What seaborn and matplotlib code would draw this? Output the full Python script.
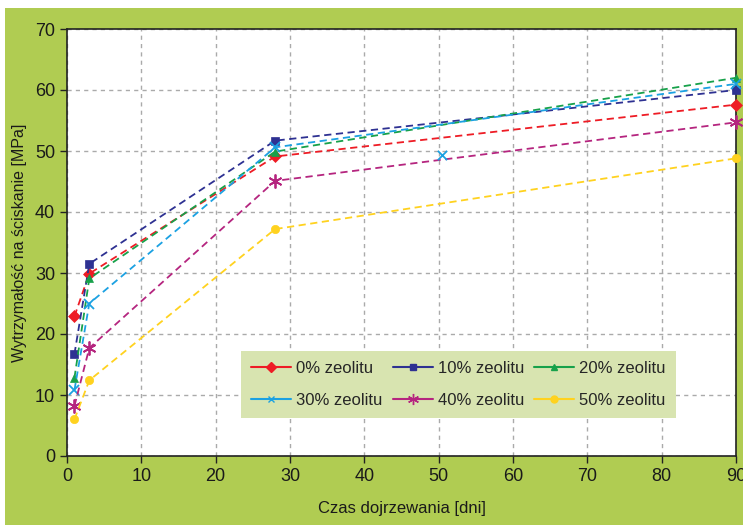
import matplotlib
matplotlib.use("Agg")
import matplotlib.pyplot as plt
import matplotlib.patches as patches
from matplotlib.lines import Line2D
import pandas as pd
import seaborn as sb

# curing time [days]
days = [1, 3, 28, 90]

# compressive strength [MPa] per zeolite content
z0 = [22.9, 29.9, 49.1, 57.6]
z10 = [16.7, 31.5, 51.7, 60.0]
z20 = [12.8, 29.1, 49.9, 62.0]
z30 = [10.8, 25.0, 50.6, 61.0]
z40 = [8.2, 17.7, 45.1, 54.7]
z50 = [6.0, 12.4, 37.2, 48.8]

# lone marker of the 30% series
extra_day = [50.5]
extra_val = [49.3]

labels = ["0% zeolitu", "10% zeolitu", "20% zeolitu",
          "30% zeolitu", "40% zeolitu", "50% zeolitu"]
series = [z0, z10, z20, z30, z40, z50]
colors = ["#ee1c25", "#2e3192", "#17a14a", "#1ba1e2", "#b5257f", "#ffd21f"]
markers = ["D", "s", "^", "x", (6, 2, 0), "o"]
msizes = [6, 6, 6, 7, 10, 6]

sb.set_style("white")
plt.rcParams["font.family"] = ["Liberation Sans", "DejaVu Sans"]

fig = plt.figure(figsize=(7.43, 5.25), dpi=100, facecolor="white")
fig.patches.append(patches.Rectangle((5/743, 0), 1, (525-8)/525, transform=fig.transFigure,
                                     facecolor="#b0cc52", edgecolor="none", zorder=-10))
ax = fig.add_axes([67/743, 69/525, 669/743, 427/525])
ax.set_facecolor("white")

for lab, vals, c, m, ms in zip(labels, series, colors, markers, msizes):
    df = pd.DataFrame({"day": days, "val": vals})
    thin = m == "x" or isinstance(m, tuple)
    sb.lineplot(data=df, x="day", y="val", ax=ax, color=c, linestyle=(0, (4, 2.5)),
                linewidth=1.3, marker=m, markersize=ms, markeredgecolor=c,
                markeredgewidth=1.3 if thin else 0.5, clip_on=False, zorder=3)

sb.scatterplot(x=extra_day, y=extra_val, ax=ax, color=colors[3], marker="x", s=45,
               linewidth=1.3, zorder=3)

ax.set_xlim(0, 90)
ax.set_ylim(0, 70)
ax.set_xticks(range(0, 91, 10))
ax.set_yticks(range(0, 71, 10))
ax.grid(True, color="#aaaaaa", linestyle=(0, (3, 3)), linewidth=1)
for s in ax.spines.values():
    s.set_color("#222222")
    s.set_linewidth(1.2)
ax.tick_params(axis="both", which="both", direction="out", length=5, width=1,
               color="#222222", labelsize=13, labelcolor="#1a1a1a", left=True, bottom=True)
ax.set_xlabel("Czas dojrzewania [dni]", fontsize=12, color="#1a1a1a", labelpad=12)
ax.set_ylabel("Wytrzymałość na ściskanie [MPa]", fontsize=11.5, color="#1a1a1a", labelpad=6)

# legend is filled column by column, so reorder to read row-wise
order = [0, 3, 1, 4, 2, 5]
handles = [Line2D([], [], color=colors[i], marker=markers[i],
                  markersize=5 if i != 4 else 8, linewidth=1.5, markeredgewidth=1,
                  markeredgecolor=colors[i]) for i in order]
leg = ax.legend(handles, [labels[i] for i in order], loc="lower left", ncol=3, mode="expand",
                bbox_to_anchor=(0.26, 0.089, 0.65, 0.157), fontsize=12,
                frameon=True, fancybox=False, facecolor="#d8e4b0", edgecolor="none",
                framealpha=1, handlelength=2.4, handletextpad=0.3, borderaxespad=0,
                labelspacing=1.0, columnspacing=1.0, borderpad=0.6)
leg.set_zorder(5)

fig.savefig("out.png", dpi=100, facecolor="white")
